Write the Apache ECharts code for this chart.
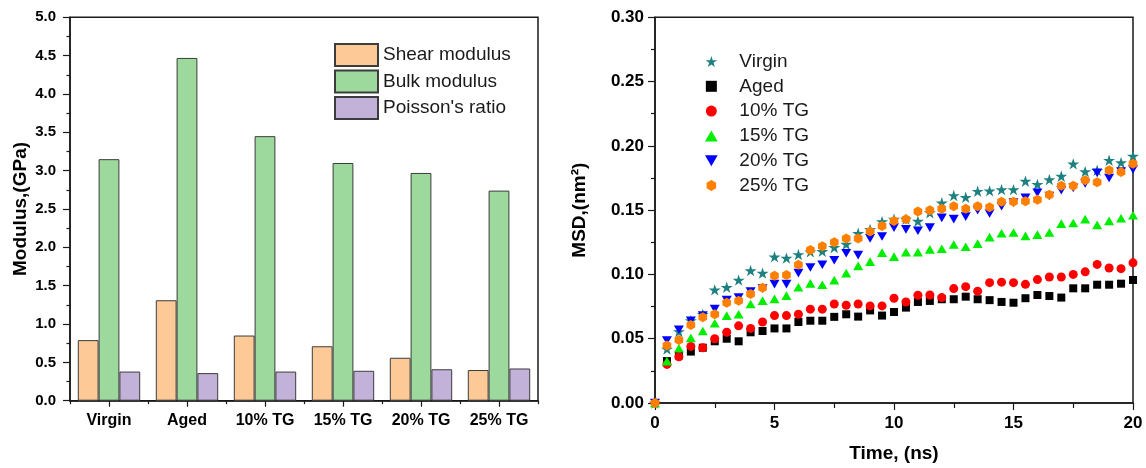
<!DOCTYPE html>
<html>
<head>
<meta charset="utf-8">
<script src="https://cdn.jsdelivr.net/npm/echarts@6/dist/echarts.min.js"></script>
<style>
  html, body { margin: 0; padding: 0; background: #fff; }
  #chart { width: 1146px; height: 468px; }
</style>
</head>
<body>
<div id="chart"></div>
<script>
// ---- Elastic properties (left panel) ----
const categories = ['Virgin', 'Aged', '10% TG', '15% TG', '20% TG', '25% TG'];
const shearModulus = [0.79, 1.31, 0.85, 0.71, 0.56, 0.40];
const bulkModulus = [3.15, 4.47, 3.45, 3.10, 2.97, 2.74];
const poissonRatio = [0.38, 0.36, 0.38, 0.39, 0.41, 0.42];

// ---- Mean squared displacement (right panel) ----
const timeNs = [0, 0.5, 1, 1.5, 2, 2.5, 3, 3.5, 4, 4.5, 5, 5.5, 6, 6.5, 7, 7.5, 8, 8.5, 9, 9.5, 10,
  10.5, 11, 11.5, 12, 12.5, 13, 13.5, 14, 14.5, 15, 15.5, 16, 16.5, 17, 17.5, 18, 18.5, 19, 19.5, 20];
const msdVirgin = [0, 0.042, 0.0556, 0.064, 0.069, 0.088, 0.090, 0.0956, 0.103, 0.101, 0.1137, 0.1127,
  0.1155, 0.1176, 0.118, 0.121, 0.1235, 0.132, 0.135, 0.141, 0.143, 0.143, 0.1414, 0.148, 0.1557,
  0.1614, 0.160, 0.1647, 0.165, 0.166, 0.166, 0.1725, 0.170, 0.1738, 0.1764, 0.186, 0.180, 0.181,
  0.1888, 0.187, 0.192];
const msdAged = [0, 0.0326, 0.037, 0.040, 0.043, 0.048, 0.050, 0.048, 0.055, 0.056, 0.058, 0.058,
  0.063, 0.064, 0.064, 0.067, 0.069, 0.0672, 0.072, 0.068, 0.0708, 0.0742, 0.0786, 0.0794, 0.0807,
  0.0807, 0.0827, 0.0807, 0.080, 0.0786, 0.078, 0.0815, 0.084, 0.0832, 0.082, 0.0892, 0.0892, 0.092,
  0.092, 0.0928, 0.0957];
const msdTG10 = [0, 0.030, 0.036, 0.044, 0.043, 0.050, 0.055, 0.060, 0.058, 0.063, 0.068, 0.068,
  0.069, 0.073, 0.073, 0.077, 0.076, 0.077, 0.0755, 0.0755, 0.0815, 0.0786, 0.0838, 0.084, 0.082,
  0.089, 0.0905, 0.087, 0.0936, 0.094, 0.0936, 0.0923, 0.096, 0.098, 0.098, 0.100, 0.102, 0.1078,
  0.105, 0.1045, 0.109];
const msdTG15 = [0, 0.0326, 0.0426, 0.0506, 0.056, 0.062, 0.068, 0.069, 0.077, 0.0796, 0.081, 0.0835,
  0.090, 0.093, 0.092, 0.0956, 0.101, 0.1067, 0.110, 0.117, 0.1138, 0.1174, 0.1174, 0.1195, 0.120,
  0.1233, 0.1215, 0.124, 0.129, 0.132, 0.1326, 0.130, 0.131, 0.1326, 0.1395, 0.140, 0.143, 0.1385,
  0.1416, 0.1437, 0.146];
const msdTG20 = [0, 0.0486, 0.057, 0.064, 0.068, 0.073, 0.080, 0.082, 0.0866, 0.089, 0.0925, 0.0925,
  0.101, 0.1054, 0.1075, 0.111, 0.1165, 0.115, 0.128, 0.1295, 0.1364, 0.135, 0.134, 0.1364, 0.144,
  0.143, 0.145, 0.150, 0.1474, 0.153, 0.1558, 0.1596, 0.1635, 0.161, 0.1655, 0.1673, 0.1707, 0.179,
  0.175, 0.180, 0.1817];
const msdTG25 = [0, 0.0447, 0.049, 0.0607, 0.0667, 0.069, 0.078, 0.0796, 0.0848, 0.0897, 0.099, 0.0995,
  0.1075, 0.119, 0.122, 0.125, 0.128, 0.128, 0.1333, 0.1377, 0.1416, 0.143, 0.149, 0.150, 0.151,
  0.153, 0.151, 0.153, 0.1523, 0.1565, 0.1565, 0.157, 0.158, 0.162, 0.169, 0.169, 0.1733, 0.1717,
  0.181, 0.1796, 0.186];

const FONT = '"Liberation Sans", Arial, Helvetica, sans-serif';
const INK = '#1a1a1a';
// marker outlines (path symbols keep their proportions in the legend too)
const STAR = 'path://M50,0 L61.2,34.5 L97.6,34.5 L68.2,55.9 L79.4,90.5 L50,69.1 L20.6,90.5 L31.8,55.9 L2.4,34.5 L38.8,34.5 Z';
const SQUARE = 'path://M0,0 L100,0 L100,100 L0,100 Z';
const TRI_UP = 'path://M50,0 L100,86.6 L0,86.6 Z';
const TRI_DOWN = 'path://M0,0 L100,0 L50,86.6 Z';
const HEXAGON = 'path://M50,0 L93.3,25 L93.3,75 L50,100 L6.7,75 L6.7,25 Z';

const leftGrid = { left: 70, right: 608, top: 17.3, bottom: 67.3 };
const rightGrid = { left: 655, right: 13, top: 17.3, bottom: 64 };

const axisLine = { show: true, onZero: false, lineStyle: { color: INK, width: 1.5 } };
const tickLine = { color: INK, width: 1.2 };

function pairs(values) {
  return timeNs.map((t, i) => [t, values[i]]);
}

function barSeries(name, values, color) {
  return {
    name, type: 'bar', xAxisIndex: 0, yAxisIndex: 0, data: values,
    barGap: '0%', barCategoryGap: '20%',
    itemStyle: { color, borderColor: '#3c3c3c', borderWidth: 1 }
  };
}

function msdSeries(name, values, color, symbol, size) {
  return {
    name, type: 'scatter', xAxisIndex: 1, yAxisIndex: 1, data: pairs(values),
    symbol, symbolSize: size, symbolKeepAspect: true,
    itemStyle: { color, opacity: 1 }
  };
}

const chart = echarts.init(document.getElementById('chart'), null, { renderer: 'canvas' });

chart.setOption({
  animation: false,
  backgroundColor: '#ffffff',
  textStyle: { fontFamily: FONT },
  grid: [
    Object.assign({ show: true, borderColor: INK, borderWidth: 1.5, backgroundColor: 'transparent' }, leftGrid),
    Object.assign({ show: true, borderColor: INK, borderWidth: 1.5, backgroundColor: 'transparent' }, rightGrid),
    Object.assign({}, leftGrid)
  ],
  xAxis: [
    {
      gridIndex: 0, type: 'category', data: categories,
      axisLine,
      axisTick: { show: true, alignWithLabel: true, length: 6, lineStyle: tickLine },
      axisLabel: { fontFamily: FONT, fontWeight: 'bold', fontSize: 16, color: '#000', margin: 12 },
      splitLine: { show: false }
    },
    {
      gridIndex: 1, type: 'value', min: 0, max: 20, interval: 5,
      axisLine,
      axisTick: { show: true, length: 7, lineStyle: tickLine },
      minorTick: { show: true, splitNumber: 2, length: 5, lineStyle: tickLine },
      axisLabel: { fontFamily: FONT, fontWeight: 'bold', fontSize: 17, color: '#000', margin: 12 },
      splitLine: { show: false },
      name: 'Time, (ns)', nameLocation: 'middle', nameGap: 41,
      nameTextStyle: { fontFamily: FONT, fontWeight: 'bold', fontSize: 19, color: '#000' }
    },
    {
      // boundary ticks between the category groups
      gridIndex: 2, type: 'value', min: 0, max: 6, interval: 1,
      axisLine: { show: false },
      axisTick: { show: true, length: 3.5, lineStyle: tickLine },
      axisLabel: { show: false },
      splitLine: { show: false }
    }
  ],
  yAxis: [
    {
      gridIndex: 0, type: 'value', min: 0, max: 5, interval: 0.5,
      axisLine,
      axisTick: { show: true, length: 7, lineStyle: tickLine },
      minorTick: { show: true, splitNumber: 2, length: 3.5, lineStyle: tickLine },
      axisLabel: { fontFamily: FONT, fontWeight: 'bold', fontSize: 15, color: '#000', margin: 14,
        formatter: v => v.toFixed(1) },
      splitLine: { show: false },
      name: 'Modulus,(GPa)', nameLocation: 'middle', nameGap: 40, nameRotate: 90,
      nameTextStyle: { fontFamily: FONT, fontWeight: 'bold', fontSize: 19, color: '#000' }
    },
    {
      gridIndex: 1, type: 'value', min: 0, max: 0.3, interval: 0.05,
      axisLine,
      axisTick: { show: true, length: 7, lineStyle: tickLine },
      minorTick: { show: true, splitNumber: 2, length: 4, lineStyle: tickLine },
      axisLabel: { fontFamily: FONT, fontWeight: 'bold', fontSize: 17, color: '#000', margin: 11,
        formatter: v => v.toFixed(2) },
      splitLine: { show: false },
      name: 'MSD,(nm²)', nameLocation: 'middle', nameGap: 66, nameRotate: 90,
      nameTextStyle: { fontFamily: FONT, fontWeight: 'bold', fontSize: 19, color: '#000' }
    },
    {
      gridIndex: 2, type: 'value', min: 0, max: 1, show: false
    }
  ],
  legend: [
    {
      data: ['Shear modulus', 'Bulk modulus', "Poisson's ratio"],
      orient: 'vertical', left: 334, top: 43, padding: 0,
      itemWidth: 43, itemHeight: 22, itemGap: 2.5, icon: 'rect',
      textStyle: { fontFamily: FONT, fontSize: 19, color: INK }
    },
    {
      data: ['Virgin', 'Aged', '10% TG', '15% TG', '20% TG', '25% TG'],
      orient: 'vertical', left: 705, top: 52, padding: 0,
      itemWidth: 46, itemHeight: 11, itemGap: 5.8,
      textStyle: { fontFamily: FONT, fontSize: 19, color: INK, lineHeight: 19 }
    }
  ],
  series: [
    barSeries('Shear modulus', shearModulus, '#fcc997'),
    barSeries('Bulk modulus', bulkModulus, '#9dd99d'),
    barSeries("Poisson's ratio", poissonRatio, '#c2b1d8'),
    msdSeries('Virgin', msdVirgin, '#1f8080', STAR, 12),
    msdSeries('Aged', msdAged, '#000000', SQUARE, 8),
    msdSeries('10% TG', msdTG10, '#ff0000', 'circle', 9),
    msdSeries('15% TG', msdTG15, '#00ee00', TRI_UP, 10),
    msdSeries('20% TG', msdTG20, '#0000ff', TRI_DOWN, 10),
    msdSeries('25% TG', msdTG25, '#ff8000', HEXAGON, 10)
  ]
});
</script>
</body>
</html>
